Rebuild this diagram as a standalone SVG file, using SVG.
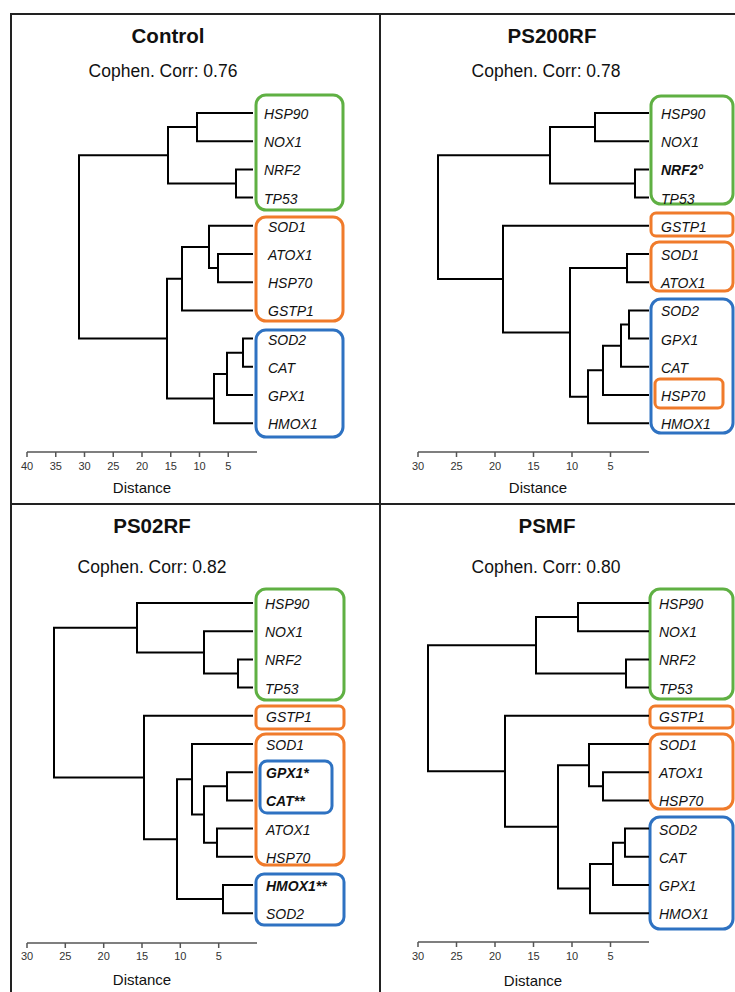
<svg xmlns="http://www.w3.org/2000/svg" width="735" height="992" viewBox="0 0 735 992">
<style>
text{font-family:"Liberation Sans",Arial,sans-serif;fill:#111}
.lbl{font-style:italic;font-size:14px}
.b{font-weight:bold}
.title{font-weight:bold;font-size:20.5px;text-anchor:middle}
.cc{font-size:17.5px;text-anchor:middle}
.tk{font-size:11px;text-anchor:middle;fill:#333}
.dist{font-size:15px;text-anchor:middle}
.tree path{stroke:#000;stroke-width:2;fill:none}
.axis{stroke:#555;stroke-width:1.5;fill:none}
.frame{stroke:#222;stroke-width:2;fill:none}
.box{fill:none;stroke-width:3}
.gr{stroke:#5fb043}
.or{stroke:#f07b2b}
.bl{stroke:#2e72c2}
</style>
<rect width="735" height="992" fill="#fff"/>
<g id="frame">
<path class="frame" d="M11,992 V14 H735 M380,14 V992 M11,504 H735"/>
</g>

<!-- ===== Control ===== -->
<g id="control-panel">
<text class="title" x="168" y="43">Control</text>
<text class="cc" x="163" y="77">Cophen. Corr: 0.76</text>
<g id="control-axis">
<path class="axis" d="M27,452 H257 M27,452 v5 M55.75,452 v5 M84.5,452 v5 M113.25,452 v5 M142,452 v5 M170.75,452 v5 M199.5,452 v5 M228.25,452 v5"/>
<text class="tk" x="27" y="470">40</text><text class="tk" x="55.75" y="470">35</text><text class="tk" x="84.5" y="470">30</text><text class="tk" x="113.25" y="470">25</text><text class="tk" x="142" y="470">20</text><text class="tk" x="170.75" y="470">15</text><text class="tk" x="199.5" y="470">10</text><text class="tk" x="228.25" y="470">5</text>
<text class="dist" x="142" y="493">Distance</text>
</g>
<g id="control-green"><rect class="box gr" x="256" y="95" width="87" height="115" rx="10"/></g>
<g id="control-orange"><rect class="box or" x="256" y="217" width="87" height="104" rx="10"/></g>
<g id="control-blue"><rect class="box bl" x="256" y="330" width="87" height="107" rx="10"/></g>
<g id="c-HSP90"><text class="lbl" x="264" y="119">HSP90</text></g>
<g id="c-NOX1"><text class="lbl" x="264" y="147.2">NOX1</text></g>
<g id="c-NRF2"><text class="lbl" x="264" y="175.4">NRF2</text></g>
<g id="c-TP53"><text class="lbl" x="264" y="203.6">TP53</text></g>
<g id="c-SOD1"><text class="lbl" x="268" y="231.8">SOD1</text></g>
<g id="c-ATOX1"><text class="lbl" x="268" y="260">ATOX1</text></g>
<g id="c-HSP70"><text class="lbl" x="268" y="288.2">HSP70</text></g>
<g id="c-GSTP1"><text class="lbl" x="268" y="316.4">GSTP1</text></g>
<g id="c-SOD2"><text class="lbl" x="268" y="344.6">SOD2</text></g>
<g id="c-CAT"><text class="lbl" x="268" y="372.8">CAT</text></g>
<g id="c-GPX1"><text class="lbl" x="268" y="401">GPX1</text></g>
<g id="c-HMOX1"><text class="lbl" x="268" y="429.2">HMOX1</text></g>
</g>

<!-- ===== PS200RF ===== -->
<g id="ps200rf-panel">
<text class="title" x="552" y="43">PS200RF</text>
<text class="cc" x="546" y="77">Cophen. Corr: 0.78</text>
<g id="ps200rf-axis">
<path class="axis" d="M418,452 H649 M418,452 v5 M456.5,452 v5 M495,452 v5 M533.5,452 v5 M572,452 v5 M610.5,452 v5"/>
<text class="tk" x="418" y="470">30</text><text class="tk" x="456.5" y="470">25</text><text class="tk" x="495" y="470">20</text><text class="tk" x="533.5" y="470">15</text><text class="tk" x="572" y="470">10</text><text class="tk" x="610.5" y="470">5</text>
<text class="dist" x="538" y="493">Distance</text>
</g>
<g id="ps200rf-green"><rect class="box gr" x="651" y="96" width="82" height="108" rx="10"/></g>
<g id="ps200rf-orange-gstp1"><rect class="box or" x="651" y="213" width="82" height="23" rx="5"/></g>
<g id="ps200rf-orange"><rect class="box or" x="651" y="242" width="82" height="49" rx="8"/></g>
<g id="ps200rf-blue"><rect class="box bl" x="651" y="299" width="82" height="134" rx="10"/></g>
<g id="ps200rf-orange-hsp70"><rect class="box or" x="655" y="379" width="68" height="29" rx="5"/></g>
<g id="p2-HSP90"><text class="lbl" x="661" y="119">HSP90</text></g>
<g id="p2-NOX1"><text class="lbl" x="661" y="147.2">NOX1</text></g>
<g id="p2-NRF2"><text class="lbl b" x="661" y="175.4">NRF2°</text></g>
<g id="p2-TP53"><text class="lbl" x="661" y="203.6">TP53</text></g>
<g id="p2-GSTP1"><text class="lbl" x="661" y="231.8">GSTP1</text></g>
<g id="p2-SOD1"><text class="lbl" x="661" y="260">SOD1</text></g>
<g id="p2-ATOX1"><text class="lbl" x="661" y="288.2">ATOX1</text></g>
<g id="p2-SOD2"><text class="lbl" x="661" y="316.4">SOD2</text></g>
<g id="p2-GPX1"><text class="lbl" x="661" y="344.6">GPX1</text></g>
<g id="p2-CAT"><text class="lbl" x="661" y="372.8">CAT</text></g>
<g id="p2-HSP70"><text class="lbl" x="661" y="401">HSP70</text></g>
<g id="p2-HMOX1"><text class="lbl" x="661" y="429.2">HMOX1</text></g>
</g>

<!-- ===== PS02RF ===== -->
<g id="ps02rf-panel">
<text class="title" x="152" y="533">PS02RF</text>
<text class="cc" x="152" y="573">Cophen. Corr: 0.82</text>
<g id="ps02rf-axis">
<path class="axis" d="M27,943 H257 M27,943 v5 M65.3,943 v5 M103.7,943 v5 M142,943 v5 M180.3,943 v5 M218.7,943 v5"/>
<text class="tk" x="27" y="960">30</text><text class="tk" x="65.3" y="960">25</text><text class="tk" x="103.7" y="960">20</text><text class="tk" x="142" y="960">15</text><text class="tk" x="180.3" y="960">10</text><text class="tk" x="218.7" y="960">5</text>
<text class="dist" x="142" y="985">Distance</text>
</g>
<g id="ps02rf-green"><rect class="box gr" x="256" y="589" width="88" height="111" rx="10"/></g>
<g id="ps02rf-orange-gstp1"><rect class="box or" x="256" y="706" width="88" height="23" rx="5"/></g>
<g id="ps02rf-orange"><rect class="box or" x="256" y="734" width="88" height="131" rx="10"/></g>
<g id="ps02rf-blue-inner"><rect class="box bl" x="260" y="761" width="72" height="52" rx="7"/></g>
<g id="ps02rf-blue"><rect class="box bl" x="256" y="874" width="88" height="51" rx="8"/></g>
<g id="p3-HSP90"><text class="lbl" x="265" y="609">HSP90</text></g>
<g id="p3-NOX1"><text class="lbl" x="265" y="637.2">NOX1</text></g>
<g id="p3-NRF2"><text class="lbl" x="265" y="665.4">NRF2</text></g>
<g id="p3-TP53"><text class="lbl" x="265" y="693.6">TP53</text></g>
<g id="p3-GSTP1"><text class="lbl" x="266" y="721.8">GSTP1</text></g>
<g id="p3-SOD1"><text class="lbl" x="266" y="750">SOD1</text></g>
<g id="p3-GPX1"><text class="lbl b" x="266" y="778.2">GPX1*</text></g>
<g id="p3-CAT"><text class="lbl b" x="266" y="806.4">CAT**</text></g>
<g id="p3-ATOX1"><text class="lbl" x="266" y="834.6">ATOX1</text></g>
<g id="p3-HSP70"><text class="lbl" x="266" y="862.8">HSP70</text></g>
<g id="p3-HMOX1"><text class="lbl b" x="266" y="891">HMOX1**</text></g>
<g id="p3-SOD2"><text class="lbl" x="266" y="919.2">SOD2</text></g>
</g>

<!-- ===== PSMF ===== -->
<g id="psmf-panel">
<text class="title" x="547" y="533">PSMF</text>
<text class="cc" x="546" y="573">Cophen. Corr: 0.80</text>
<g id="psmf-axis">
<path class="axis" d="M418,942 H649 M418,942 v5 M456.5,942 v5 M495,942 v5 M533.5,942 v5 M572,942 v5 M610.5,942 v5"/>
<text class="tk" x="418" y="960">30</text><text class="tk" x="456.5" y="960">25</text><text class="tk" x="495" y="960">20</text><text class="tk" x="533.5" y="960">15</text><text class="tk" x="572" y="960">10</text><text class="tk" x="610.5" y="960">5</text>
<text class="dist" x="533" y="986">Distance</text>
</g>
<g id="psmf-green"><rect class="box gr" x="650" y="589" width="83" height="110" rx="10"/></g>
<g id="psmf-orange-gstp1"><rect class="box or" x="650" y="706" width="83" height="22" rx="5"/></g>
<g id="psmf-orange"><rect class="box or" x="650" y="734" width="83" height="75" rx="10"/></g>
<g id="psmf-blue"><rect class="box bl" x="650" y="817" width="83" height="112" rx="10"/></g>
<g id="p4-HSP90"><text class="lbl" x="659" y="609">HSP90</text></g>
<g id="p4-NOX1"><text class="lbl" x="659" y="637.2">NOX1</text></g>
<g id="p4-NRF2"><text class="lbl" x="659" y="665.4">NRF2</text></g>
<g id="p4-TP53"><text class="lbl" x="659" y="693.6">TP53</text></g>
<g id="p4-GSTP1"><text class="lbl" x="659" y="721.8">GSTP1</text></g>
<g id="p4-SOD1"><text class="lbl" x="659" y="750">SOD1</text></g>
<g id="p4-ATOX1"><text class="lbl" x="659" y="778.2">ATOX1</text></g>
<g id="p4-HSP70"><text class="lbl" x="659" y="806.4">HSP70</text></g>
<g id="p4-SOD2"><text class="lbl" x="659" y="834.6">SOD2</text></g>
<g id="p4-CAT"><text class="lbl" x="659" y="862.8">CAT</text></g>
<g id="p4-GPX1"><text class="lbl" x="659" y="891">GPX1</text></g>
<g id="p4-HMOX1"><text class="lbl" x="659" y="919.2">HMOX1</text></g>
</g>

<!-- ===== Connectors (dendrogram branches) ===== -->
<g id="connectors" class="tree">
<!-- Control -->
<path d="M253,113 H197 V141.2 H253"/>
<path d="M253,169.4 H236 V197.6 H253"/>
<path d="M197,127.1 H168 V183.5 H236"/>
<path d="M253,254 H218 V282.2 H253"/>
<path d="M253,225.8 H209 V268.1 H218"/>
<path d="M209,247 H182 V310.4 H253"/>
<path d="M253,338.6 H243 V366.8 H253"/>
<path d="M243,352.7 H227 V395 H253"/>
<path d="M227,373.9 H214 V423.2 H253"/>
<path d="M182,278.7 H167 V398.5 H214"/>
<path d="M168,155.3 H79 V338.6 H167"/>
<!-- PS200RF -->
<path d="M649,113 H595 V141.2 H649"/>
<path d="M649,169.4 H635 V197.6 H649"/>
<path d="M595,127.1 H550 V183.5 H635"/>
<path d="M649,254 H627 V282.2 H649"/>
<path d="M649,310.4 H629 V338.6 H649"/>
<path d="M629,324.5 H621 V366.8 H649"/>
<path d="M621,345.7 H603 V395 H649"/>
<path d="M603,370.3 H588 V423.2 H649"/>
<path d="M627,268.1 H570 V396.8 H588"/>
<path d="M649,225.8 H503 V332.4 H570"/>
<path d="M550,155.3 H438 V279.1 H503"/>
<!-- PS02RF -->
<path d="M253,659.4 H238 V687.6 H253"/>
<path d="M253,631.2 H204 V673.5 H238"/>
<path d="M253,603 H137 V652.4 H204"/>
<path d="M253,772.2 H227 V800.4 H253"/>
<path d="M253,828.6 H217 V856.8 H253"/>
<path d="M227,786.3 H204 V842.7 H217"/>
<path d="M253,744 H192 V814.5 H204"/>
<path d="M253,885 H223 V913.2 H253"/>
<path d="M192,779.3 H177 V899.1 H223"/>
<path d="M253,715.8 H144 V839.2 H177"/>
<path d="M137,627.7 H54 V777.5 H144"/>
<!-- PSMF -->
<path d="M649,603 H578 V631.2 H649"/>
<path d="M649,659.4 H626 V687.6 H649"/>
<path d="M578,617.1 H536 V673.5 H626"/>
<path d="M649,772.2 H603 V800.4 H649"/>
<path d="M649,744 H589 V786.3 H603"/>
<path d="M649,828.6 H625 V856.8 H649"/>
<path d="M625,842.7 H613 V885 H649"/>
<path d="M613,863.9 H590 V913.2 H649"/>
<path d="M589,765.2 H558 V888.5 H590"/>
<path d="M649,715.8 H505 V826.8 H558"/>
<path d="M536,645.3 H428 V771.3 H505"/>
</g>
</svg>
